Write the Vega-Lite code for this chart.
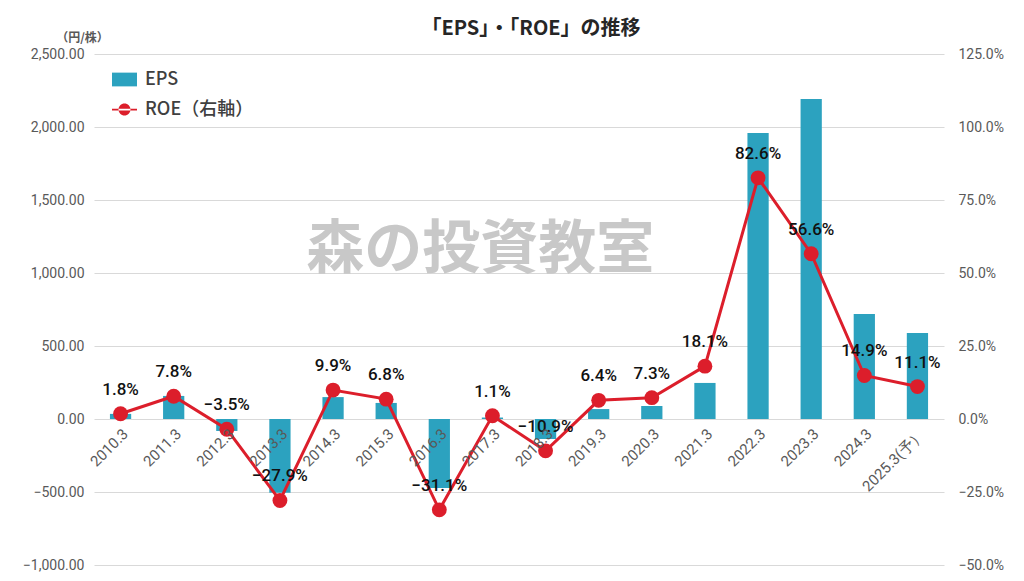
{
  "$schema": "https://vega.github.io/schema/vega-lite/v6.json",
  "width": 850,
  "height": 511,
  "autosize": {"type": "none"},
  "padding": {"left": 94, "top": 54, "right": 80, "bottom": 16},
  "background": "white",
  "title": {"text": "「EPS」・「ROE」の推移", "fontSize": 20, "fontWeight": "bold", "font": "Noto Sans CJK JP", "color": "#262626", "anchor": "middle", "dx": 12, "dy": 22, "offset": 14},
  "config": {"view": {"stroke": null}, "font": "Noto Sans CJK JP"},
  "data": {"values": [
    {"year": "2010.3", "eps": 35, "roe": 0.018},
    {"year": "2011.3", "eps": 158, "roe": 0.078},
    {"year": "2012.3", "eps": -82, "roe": -0.035},
    {"year": "2013.3", "eps": -505, "roe": -0.279},
    {"year": "2014.3", "eps": 150, "roe": 0.099},
    {"year": "2015.3", "eps": 110, "roe": 0.068},
    {"year": "2016.3", "eps": -473, "roe": -0.311},
    {"year": "2017.3", "eps": 10, "roe": 0.011},
    {"year": "2018.3", "eps": -137, "roe": -0.109},
    {"year": "2019.3", "eps": 68, "roe": 0.064},
    {"year": "2020.3", "eps": 89, "roe": 0.073},
    {"year": "2021.3", "eps": 247, "roe": 0.181},
    {"year": "2022.3", "eps": 1959, "roe": 0.826},
    {"year": "2023.3", "eps": 2192, "roe": 0.566},
    {"year": "2024.3", "eps": 719, "roe": 0.149},
    {"year": "2025.3(予）", "eps": 589, "roe": 0.111}
  ]},
  "encoding": {
    "x": {"field": "year", "type": "nominal", "sort": null,
      "scale": {"paddingInner": 0, "paddingOuter": 0},
      "axis": {"title": null, "labelAngle": -45, "offset": -146, "domain": false, "ticks": false, "labelColor": "#595959", "labelFontSize": 15, "labelFont": "Roboto", "labelPadding": 7, "zindex": 1}}
  },
  "layer": [
    {
      "mark": {"type": "bar", "width": {"band": 0.4}},
      "encoding": {
        "y": {"field": "eps", "type": "quantitative",
          "scale": {"domain": [-1000, 2500], "nice": false},
          "axis": {"orient": "left", "values": [-1000, -500, 0, 500, 1000, 1500, 2000, 2500], "format": ",.2f", "grid": true, "gridColor": "#d9d9d9", "domain": false, "ticks": false, "labelColor": "#595959", "labelFontSize": 14, "labelFont": "Roboto", "labelPadding": 10,
            "title": "（円/株）", "titleAngle": 0, "titleX": -12, "titleY": -17, "titleAlign": "center", "titleBaseline": "middle", "titleFontSize": 12, "titleFontWeight": "bold", "titleColor": "#595959"}},
        "color": {"datum": "EPS",
          "scale": {"domain": ["EPS", "ROE（右軸）"], "range": ["#2ca2bf", "#dc1e2b"]},
          "legend": {"orient": "none", "legendX": 18, "legendY": 13, "title": null, "labelFontSize": 18, "labelFont": "Noto Sans CJK JP", "labelFontWeight": 500, "labelColor": "#404040", "symbolSize": 625, "rowPadding": 8, "labelOffset": 8, "symbolStrokeWidth": 0,
            "encode": {"symbols": {"update": {
              "shape": {"signal": "datum.value === 'EPS' ? 'M-1,-0.55H1V0.55H-1Z' : 'M-1,-0.07H1V0.07H-1Z M-0.48,0A0.48,0.48 0 1,0 0.48,0A0.48,0.48 0 1,0 -0.48,0Z'"},
              "fill": {"signal": "datum.value === 'EPS' ? '#2ca2bf' : '#dc1e2b'"},
              "stroke": {"value": "transparent"}}}}}}
      }
    },
    {
      "data": {"values": [{}]},
      "mark": {"type": "text", "text": "森の投資教室", "fontSize": 58, "fontWeight": "bold", "color": "#c8c8c8", "dx": 41, "baseline": "middle", "align": "center"},
      "encoding": {
        "x": {"datum": "2016.3"},
        "y": {"datum": 1150, "type": "quantitative", "scale": {"domain": [-1000, 2500], "nice": false}, "axis": null}
      }
    },
    {
      "encoding": {
        "y": {"field": "roe", "type": "quantitative",
          "scale": {"domain": [-0.5, 1.25], "nice": false},
          "axis": {"orient": "right", "values": [-0.5, -0.25, 0, 0.25, 0.5, 0.75, 1, 1.25], "format": ".1%", "grid": false, "domain": false, "ticks": false, "labelColor": "#595959", "labelFontSize": 14, "labelFont": "Roboto", "labelPadding": 14, "title": null}}
      },
      "layer": [
        {"mark": {"type": "line", "strokeWidth": 3}, "encoding": {"color": {"datum": "ROE（右軸）"}}},
        {"mark": {"type": "circle", "size": 220, "color": "#dc1e2b", "opacity": 1}},
        {"mark": {"type": "text", "dy": -24, "fontSize": 17, "font": "Roboto", "fontWeight": 500, "color": "#111111"}, "encoding": {"text": {"field": "roe", "format": ".1%"}}}
      ]
    }
  ],
  "resolve": {"scale": {"y": "independent"}}
}
